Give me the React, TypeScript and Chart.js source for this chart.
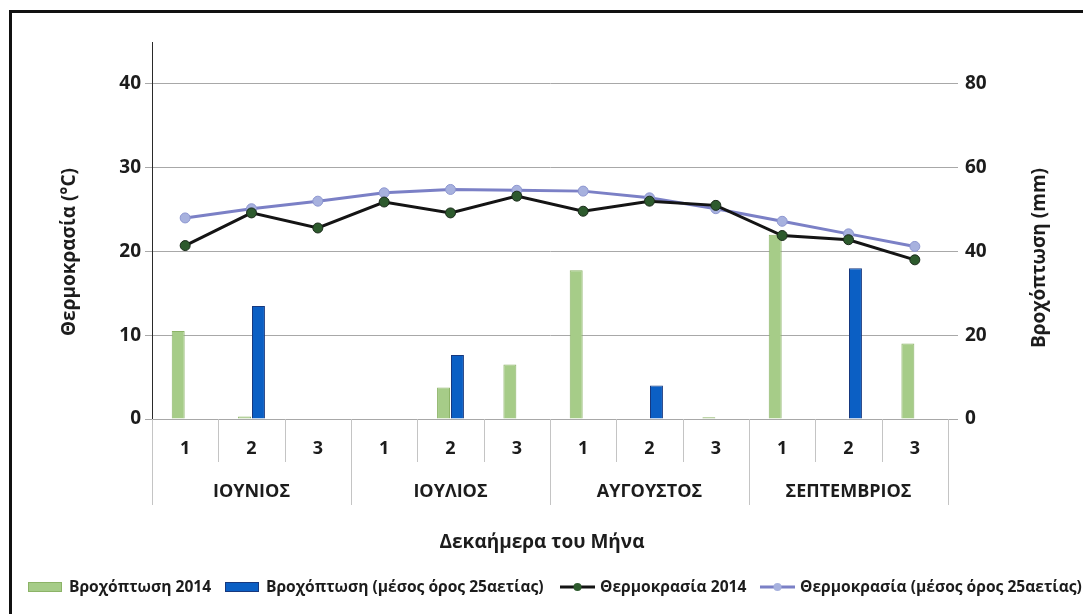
import React, { useEffect, useRef } from 'react';
import { Chart, registerables } from 'chart.js';
Chart.register(...registerables);

const decades = ['1', '2', '3', '1', '2', '3', '1', '2', '3', '1', '2', '3'];
const months = ['ΙΟΥΝΙΟΣ', 'ΙΟΥΛΙΟΣ', 'ΑΥΓΟΥΣΤΟΣ', 'ΣΕΠΤΕΜΒΡΙΟΣ'];
const rain2014 = [21, 0.6, 0, 0, 7.5, 13, 35.5, 0, 0.4, 44, 0, 18];
const rainAvg = [0, 27, 0, 0, 15.3, 0, 0, 8, 0, 0, 36, 0];
const temp2014 = [20.7, 24.6, 22.8, 25.9, 24.6, 26.6, 24.8, 26.0, 25.5, 21.9, 21.4, 19.0];
const tempAvg = [24.0, 25.1, 26.0, 27.0, 27.4, 27.3, 27.2, 26.4, 25.1, 23.6, 22.1, 20.6];
const seriesNames = [
  'Βροχόπτωση 2014',
  'Βροχόπτωση (μέσος όρος 25αετίας)',
  'Θερμοκρασία 2014',
  'Θερμοκρασία (μέσος όρος 25αετίας)',
];
const tempTicks = [0, 10, 20, 30, 40];
const rainTicks = [0, 20, 40, 60, 80];
const leftTitle = 'Θερμοκρασία (°C)';
const rightTitle = 'Βροχόπτωση (mm)';
const xTitle = 'Δεκαήμερα του Μήνα';

const FONT = '"Open Sans", "Noto Sans", sans-serif';
const TEXT = '#1c1c1c';
const GREEN = '#a6cc88';
const GREEN_B = '#8cb367';
const BLUE = '#0b5fc4';
const BLUE_B = '#17387e';
const BLACK_L = '#141414';
const BLACK_P = '#2d5a2d';
const PURP_L = '#7b80c6';
const PURP_P = '#a7b1de';

const overlay = {
  id: 'overlay',
  afterDraw(chart: any) {
    const ctx = chart.ctx as CanvasRenderingContext2D;
    const xs = chart.scales.x;
    const area = chart.chartArea;
    const n = decades.length;
    const step = xs.getPixelForValue(1) - xs.getPixelForValue(0);
    ctx.save();
    // frame
    ctx.strokeStyle = '#111';
    ctx.lineWidth = 3;
    ctx.beginPath();
    ctx.moveTo(2.5, 700);
    ctx.lineTo(2.5, 3.5);
    ctx.lineTo(1200, 3.5);
    ctx.stroke();
    // category separators
    ctx.strokeStyle = '#c4c4c4';
    ctx.lineWidth = 1;
    for (let k = 0; k <= n; k++) {
      const x = Math.round(xs.getPixelForValue(k) - step / 2) + 0.5;
      const long = k % 3 === 0;
      ctx.beginPath();
      ctx.moveTo(x, area.bottom);
      ctx.lineTo(x, area.bottom + (long ? 86 : 43));
      ctx.stroke();
    }
    // decade labels
    ctx.fillStyle = TEXT;
    ctx.textAlign = 'center';
    ctx.textBaseline = 'middle';
    ctx.font = `bold 18px ${FONT}`;
    decades.forEach((d, i) => {
      ctx.fillText(d, xs.getPixelForValue(i), area.bottom + 30);
    });
    months.forEach((m, j) => {
      const cx = (xs.getPixelForValue(j * 3) + xs.getPixelForValue(j * 3 + 2)) / 2;
      ctx.fillText(m, cx, area.bottom + 73);
    });
    // x title
    ctx.font = `bold 19px ${FONT}`;
    ctx.fillText(xTitle, (area.left + area.right) / 2 - 8, area.bottom + 124);
    // y titles
    ctx.save();
    ctx.translate(62, 244);
    ctx.rotate(-Math.PI / 2);
    ctx.fillText(leftTitle, 0, 0);
    ctx.restore();
    ctx.save();
    ctx.translate(1032, 250);
    ctx.rotate(-Math.PI / 2);
    ctx.fillText(rightTitle, 0, 0);
    ctx.restore();
    // legend
    const ly = 579;
    const starts = [20, 217, 552, 752];
    ctx.font = `bold 15.6px ${FONT}`;
    ctx.textAlign = 'left';
    seriesNames.forEach((name, i) => {
      const sx = starts[i];
      if (i < 2) {
        ctx.fillStyle = i === 0 ? GREEN : BLUE;
        ctx.fillRect(sx, ly - 5, 34, 10);
        ctx.strokeStyle = i === 0 ? GREEN_B : BLUE_B;
        ctx.lineWidth = 1;
        ctx.strokeRect(sx + 0.5, ly - 4.5, 33, 9);
      } else {
        ctx.strokeStyle = i === 2 ? BLACK_L : PURP_L;
        ctx.lineWidth = 3;
        ctx.beginPath();
        ctx.moveTo(sx, ly);
        ctx.lineTo(sx + 35, ly);
        ctx.stroke();
        ctx.fillStyle = i === 2 ? BLACK_P : PURP_P;
        ctx.beginPath();
        ctx.arc(sx + 17.5, ly, 4, 0, Math.PI * 2);
        ctx.fill();
      }
      ctx.fillStyle = TEXT;
      ctx.fillText(name, sx + (i < 2 ? 41 : 40), ly + 1);
    });
    ctx.restore();
  },
};

export default function App() {
  const ref = useRef<HTMLCanvasElement>(null);
  useEffect(() => {
    if (!ref.current) return;
    const chart = new Chart(ref.current, {
      type: 'bar',
      data: {
        labels: decades.map((d, i) => `${months[Math.floor(i / 3)]} ${d}`),
        datasets: [
          {
            type: 'line',
            label: seriesNames[2],
            data: temp2014,
            yAxisID: 'y',
            borderColor: BLACK_L,
            borderWidth: 3,
            pointRadius: 5,
            pointBackgroundColor: BLACK_P,
            pointBorderColor: '#1a2a1a',
            pointBorderWidth: 1,
            order: 0,
          },
          {
            type: 'line',
            label: seriesNames[3],
            data: tempAvg,
            yAxisID: 'y',
            borderColor: PURP_L,
            borderWidth: 3,
            pointRadius: 5,
            pointBackgroundColor: PURP_P,
            pointBorderColor: '#8d96d0',
            pointBorderWidth: 1,
            order: 1,
          },
          {
            type: 'bar',
            label: seriesNames[0],
            data: rain2014,
            yAxisID: 'y1',
            backgroundColor: GREEN,
            borderColor: GREEN_B,
            borderWidth: 1,
            categoryPercentage: 0.42,
            barPercentage: 0.93,
            order: 2,
          },
          {
            type: 'bar',
            label: seriesNames[1],
            data: rainAvg,
            yAxisID: 'y1',
            backgroundColor: BLUE,
            borderColor: BLUE_B,
            borderWidth: 1,
            categoryPercentage: 0.42,
            barPercentage: 0.93,
            order: 3,
          },
        ],
      },
      options: {
        animation: false,
        responsive: false,
        layout: { padding: { top: 34, left: 0, right: 0, bottom: 0 } },
        plugins: { legend: { display: false }, title: { display: false }, tooltip: { enabled: false } },
        scales: {
          x: {
            offset: true,
            grid: { display: false },
            border: { display: true, color: '#a8a8a8' },
            ticks: { display: false },
            afterFit: (s: any) => { s.height = 195; },
          },
          y: {
            position: 'left',
            min: 0,
            max: 45,
            afterBuildTicks: (s: any) => { s.ticks = tempTicks.map((v) => ({ value: v })); },
            grid: { color: '#a8a8a8', tickLength: 7, lineWidth: 1 },
            border: { display: true, color: '#2a2a2a', width: 1 },
            ticks: { color: TEXT, font: { family: FONT, size: 19, weight: 'bold' }, padding: 4 },
            afterFit: (s: any) => { s.width = 144; },
          },
          y1: {
            position: 'right',
            min: 0,
            max: 90,
            afterBuildTicks: (s: any) => { s.ticks = rainTicks.map((v) => ({ value: v })); },
            grid: { drawOnChartArea: false, color: '#a8a8a8', tickLength: 10 },
            border: { display: false },
            ticks: { color: TEXT, font: { family: FONT, size: 19, weight: 'bold' }, padding: 7 },
            afterFit: (s: any) => { s.width = 143; },
          },
        },
      },
      plugins: [overlay],
    } as any);
    return () => chart.destroy();
  }, []);
  return (
    <div style={{ width: 1083, height: 606, overflow: 'hidden', background: '#fff' }}>
      <canvas ref={ref} width={1083} height={606} style={{ display: 'block' }} />
    </div>
  );
}
